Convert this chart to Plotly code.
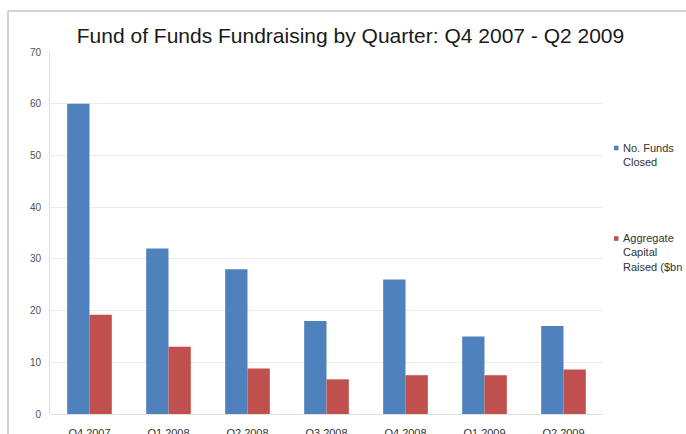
import plotly.graph_objects as go

# Quarterly fund-of-funds fundraising
quarters = ["Q4 2007", "Q1 2008", "Q2 2008", "Q3 2008", "Q4 2008", "Q1 2009", "Q2 2009"]
funds_closed = [60, 32, 28, 18, 26, 15, 17]
capital_raised = [19.2, 13.0, 8.8, 6.7, 7.5, 7.5, 8.6]

series_names = ["No. Funds<br>Closed", "Aggregate<br>Capital<br>Raised ($bn"]
series_colors = ["#4f81bd", "#c0504d"]

y_ticks = [0, 10, 20, 30, 40, 50, 60, 70]

W, H = 686, 434
L, R, T, B = 50, 83, 52, 20

def px_x(x):
    return (x - L) / (W - L - R)

def px_y(y):
    return (H - B - y) / (H - T - B)

fig = go.Figure()
for vals, name, col in zip([funds_closed, capital_raised], series_names, series_colors):
    fig.add_trace(go.Bar(
        x=quarters, y=vals, name=name.replace("<br>", " "),
        marker=dict(color=col, line=dict(width=0)),
        showlegend=False,
    ))

# Legend drawn as small squares with wrapped labels
legend_y = [148, 238.5]
for name, col, yc in zip(series_names, series_colors, legend_y):
    fig.add_shape(type="rect", xref="paper", yref="paper",
                  x0=px_x(614), x1=px_x(618.5), y0=px_y(yc + 2.3), y1=px_y(yc - 2.3),
                  fillcolor=col, line=dict(width=0))
    fig.add_annotation(xref="paper", yref="paper", x=px_x(621), y=px_y(yc - 8.5),
                       xanchor="left", yanchor="top", align="left", showarrow=False,
                       text=name, font=dict(family="Liberation Sans, Arial", size=11, color="#333333"))

# Outer chart frame
fig.add_shape(type="line", xref="paper", yref="paper",
              x0=px_x(8), x1=px_x(8), y0=px_y(11), y1=px_y(440),
              line=dict(color="#c4c4c4", width=1.5))
fig.add_shape(type="line", xref="paper", yref="paper",
              x0=px_x(8), x1=px_x(700), y0=px_y(11), y1=px_y(11),
              line=dict(color="#c4c4c4", width=1.5))

fig.update_layout(
    width=W, height=H,
    margin=dict(l=L, r=R, t=T, b=B, autoexpand=False),
    paper_bgcolor="white", plot_bgcolor="white",
    barmode="group", bargap=0.435, bargroupgap=0,
    title=dict(text="Fund of Funds Fundraising by Quarter: Q4 2007 - Q2 2009",
               x=350.5 / W, xref="container", xanchor="center",
               y=1 - 36 / H, yref="container", yanchor="middle",
               font=dict(family="Liberation Sans, Arial", size=21, color="#1a1a1a")),
    xaxis=dict(showgrid=False, showline=False, zeroline=False, automargin=False,
               tickfont=dict(family="Liberation Sans, Arial", size=11, color="#333333"),
               ticklabelstandoff=11),
    yaxis=dict(range=[0, 70], tickvals=y_ticks, showgrid=True, gridcolor="#ebebeb", gridwidth=1,
               showline=True, linecolor="#e0e0e0", linewidth=1, automargin=False,
               zeroline=True, zerolinecolor="#e0e0e0", zerolinewidth=1,
               tickfont=dict(family="Liberation Sans, Arial", size=10, color="#505050"),
               ticklabelstandoff=6),
    font=dict(family="Liberation Sans, Arial"),
)

fig.write_html("out.html")
